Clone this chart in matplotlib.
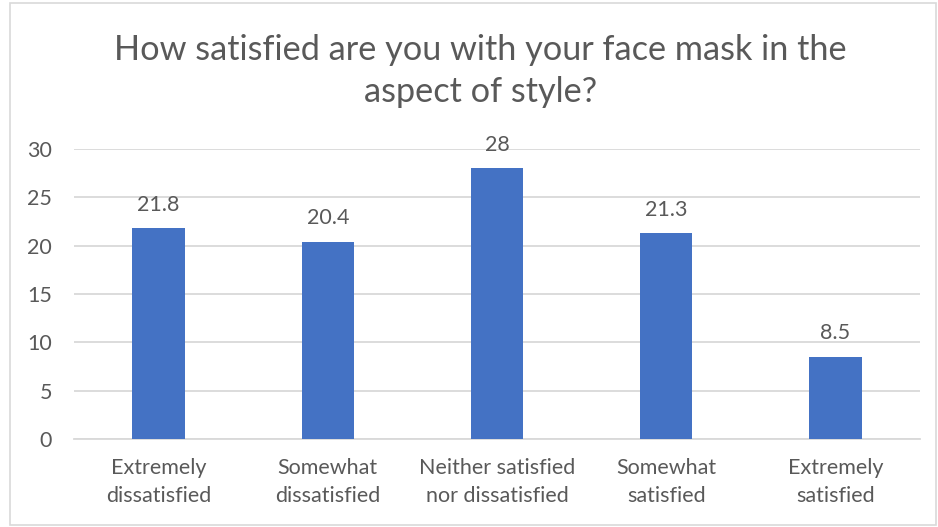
import matplotlib.pyplot as plt
from matplotlib.patches import Rectangle

categories = ["Extremely\ndissatisfied", "Somewhat\ndissatisfied",
              "Neither satisfied\nnor dissatisfied", "Somewhat\nsatisfied",
              "Extremely\nsatisfied"]
values = [21.8, 20.4, 28, 21.3, 8.5]
yticks = [0, 5, 10, 15, 20, 25, 30]

plt.rcParams['font.family'] = ['Lato', 'DejaVu Sans']
text_color = '#595959'
grid_color = '#D9D9D9'

fig = plt.figure(figsize=(9.38, 5.27), dpi=100)
ax = fig.add_axes([0.0789, 0.167, 0.902, 0.550])

x = list(range(len(categories)))
bars = ax.bar(x, values, width=0.31, color='#4472C4', zorder=3)
for xi, v in zip(x, values):
    ax.annotate(f"{v:g}", (xi, v), xytext=(0, 17), textcoords='offset points',
                ha='center', va='center', fontsize=15.5, color=text_color)

ax.set_xlim(-0.5, len(categories) - 0.5)
ax.set_ylim(0, 30)
ax.set_yticks(yticks)
ax.set_xticks(x)
ax.set_xticklabels(categories, fontsize=15.5, color=text_color, linespacing=1.45)
ax.tick_params(axis='y', labelsize=15.5, labelcolor=text_color, length=0, pad=16)
ax.tick_params(axis='x', length=0, pad=14)
ax.yaxis.grid(True, color=grid_color, linewidth=1.3, zorder=0)
for side in ['top', 'right', 'left']:
    ax.spines[side].set_visible(False)
ax.spines['bottom'].set_color(grid_color)
ax.spines['bottom'].set_linewidth(1.3)

fig.text(0.512, 0.865, "How satisfied are you with your face mask in the\naspect of style?",
         ha='center', va='center', fontsize=24.7, color=text_color, linespacing=1.4)

# light frame around the chart area
fig.patches.append(Rectangle((0.011, 0.004), 0.987, 0.99, transform=fig.transFigure,
                             fill=False, edgecolor=grid_color, linewidth=1.2))

fig.savefig('out.png', dpi=100)
